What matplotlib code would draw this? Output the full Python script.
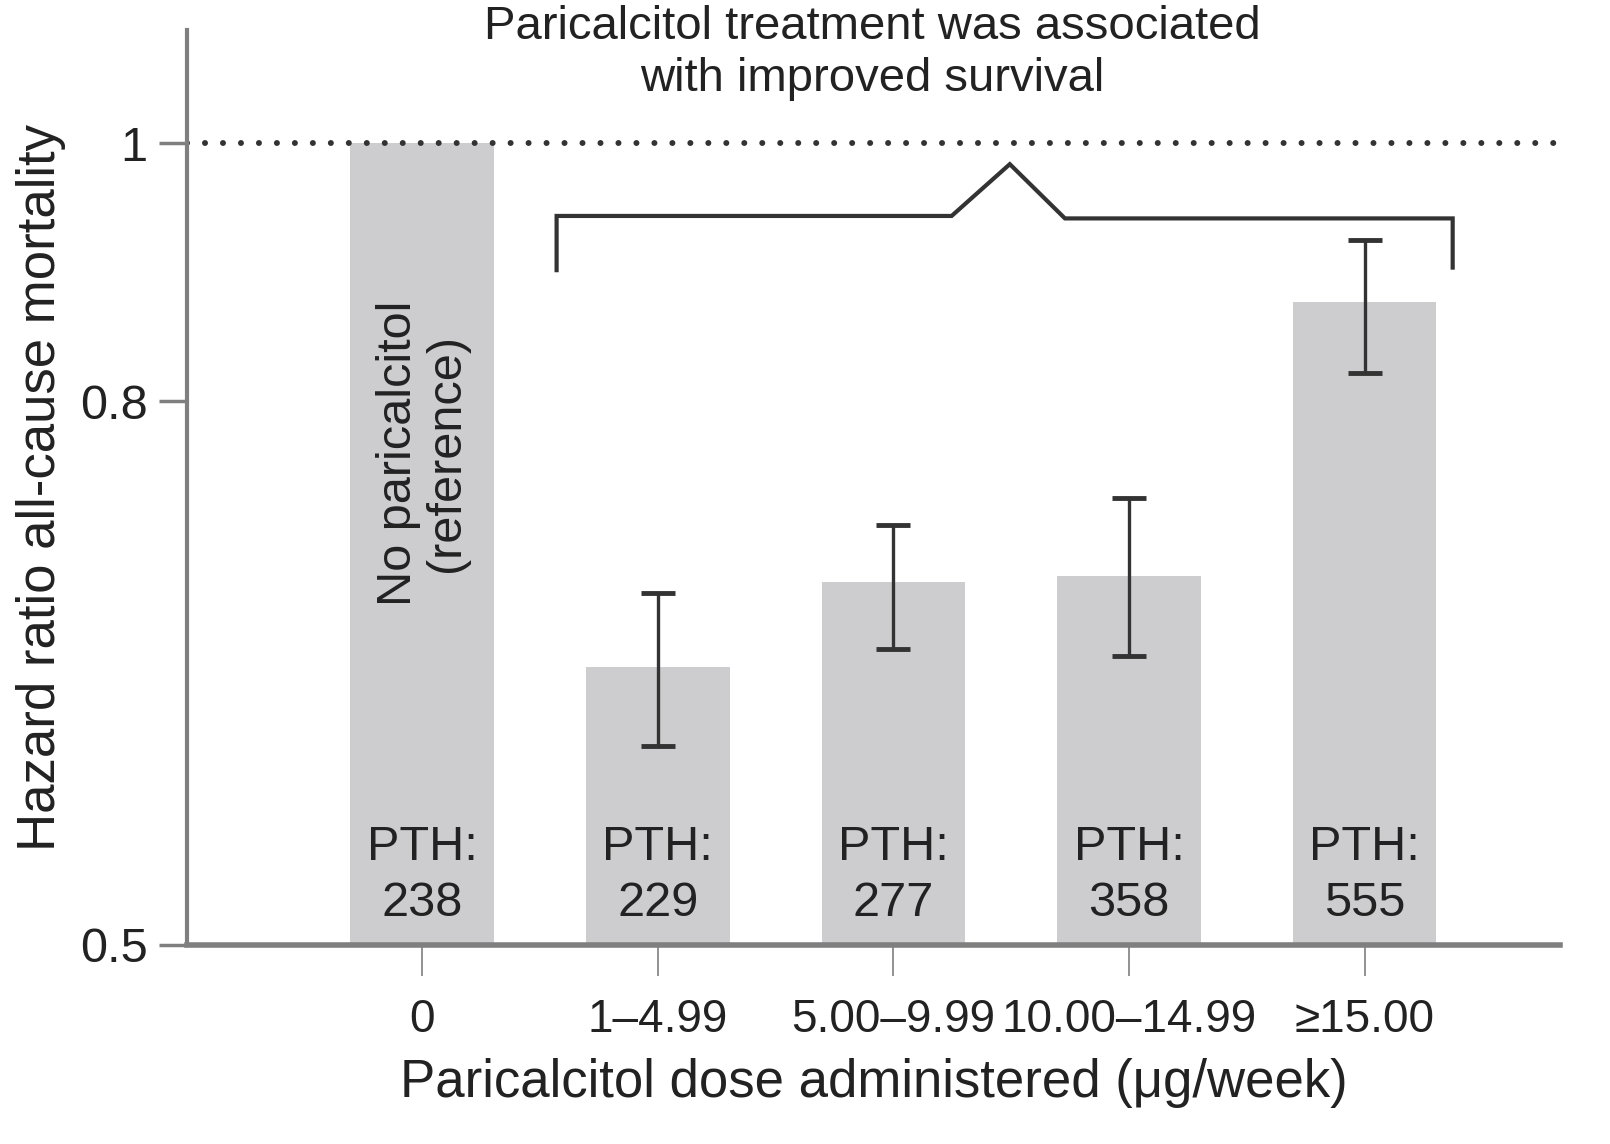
import numpy as np
import matplotlib.pyplot as plt
from matplotlib import font_manager

# Дані з графіка
doses = ['0', '1\u20134.99', '5.00\u20139.99', '10.00\u201314.99', '\u226515.00']
hazard_ratio = [1.0, 0.636, 0.684, 0.688, 0.872]
ci_low = [np.nan, 0.594, 0.646, 0.642, 0.820]
ci_high = [np.nan, 0.678, 0.719, 0.736, 0.920]
pth = [238, 229, 277, 358, 555]

# Шрифт: вузький, якщо є
names = {f.name for f in font_manager.fontManager.ttflist}
family = 'Liberation Sans Narrow' if 'Liberation Sans Narrow' in names else 'Liberation Sans'
plt.rcParams['font.family'] = [family, 'DejaVu Sans']

bar_color = '#cdcdcf'
axis_color = '#7f7f7f'
text_color = '#222222'

fig = plt.figure(figsize=(16.1, 11.44), dpi=100)
ax = fig.add_axes([0.116, 0.174, 0.853, 0.800])
ax.set_yscale('log')

x = np.arange(len(doses))
hr = np.array(hazard_ratio)
ax.bar(x, hr - 0.5, bottom=0.5, width=0.61, color=bar_color, zorder=1)

# Довірчі інтервали
lo = np.array(ci_low)
hi = np.array(ci_high)
err = np.vstack([hr - lo, hi - hr])
ax.errorbar(x[1:], hr[1:], yerr=err[:, 1:], fmt='none', ecolor='#333333',
            elinewidth=2.4, capsize=12, capthick=3.5, zorder=3)

# Лінія референсу
ax.axhline(1.0, color='#333333', linestyle=(0, (0.01, 3)), linewidth=4.3,
           dash_capstyle='round', zorder=2)

# Підписи PTH
for xi, v in zip(x, pth):
    ax.text(xi, 0.531, f'PTH:\n{v}', ha='center', va='center', fontsize=35,
            color=text_color, linespacing=1.3, zorder=4)

ax.text(x[0], 0.765, 'No paricalcitol\n(reference)', rotation=90, ha='center',
        va='center', fontsize=35, color=text_color, linespacing=1.1, zorder=4)

# Дужка над групами з лікуванням
bx = [0.57, 0.57, 2.247, 2.494, 2.728, 4.374, 4.374]
by = [0.896, 0.939, 0.939, 0.982, 0.937, 0.937, 0.898]
ax.plot(bx, by, color='#333333', linewidth=3, solid_joinstyle='miter', zorder=3)

fig.text(0.542, 0.996, 'Paricalcitol treatment was associated\nwith improved survival',
         ha='center', va='top', fontsize=34, color=text_color, linespacing=1.25)

ax.set_xlim(-1.0, 4.83)
ax.set_ylim(0.5, 1.103)
ax.set_yticks([0.5, 0.8, 1.0])
ax.set_yticklabels(['0.5', '0.8', '1'])
ax.yaxis.set_minor_locator(plt.NullLocator())
ax.set_xticks(x)
ax.set_xticklabels(doses)

ax.tick_params(axis='y', length=20, width=2.5, color=axis_color, labelsize=35,
               labelcolor=text_color, pad=8)
ax.tick_params(axis='x', length=22, width=1.2, color=axis_color, labelsize=33,
               labelcolor=text_color, pad=16)

for side in ['top', 'right']:
    ax.spines[side].set_visible(False)
ax.spines['left'].set_color(axis_color)
ax.spines['left'].set_linewidth(3)
ax.spines['bottom'].set_color(axis_color)
ax.spines['bottom'].set_linewidth(4)

ax.set_ylabel('Hazard ratio all-cause mortality', fontsize=38, color=text_color,
              labelpad=10)
ax.set_xlabel('Paricalcitol dose administered (\u03bcg/week)', fontsize=38,
              color=text_color, labelpad=12)

fig.savefig('out.png', dpi=100)
